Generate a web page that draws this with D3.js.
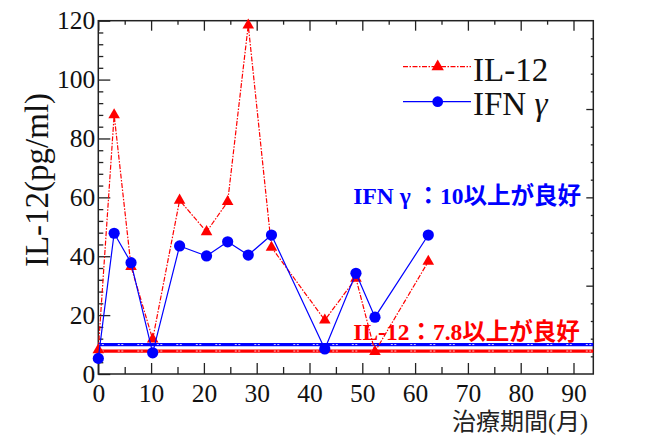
<!DOCTYPE html>
<html>
<head>
<meta charset="utf-8">
<script src="https://cdn.jsdelivr.net/npm/d3@7"></script>
<style>
    body { margin: 0; background: #fff; }
    svg { display: block; }
</style>
</head>
<body>
<svg width="658" height="435"></svg>
<script>
// months of treatment at each visit
let months = [0, 3, 6.2, 10.3, 15.4, 20.5, 24.5, 28.4, 32.8, 42.9, 48.8, 52.4, 62.5];
// IL-12 (pg/ml)
let il12 = [8.2, 88, 36.5, 11.8, 59, 48.3, 58.5, 118.5, 43, 18.3, 32.5, 7.6, 38.2];
// IFN gamma
let ifng = [5.3, 47.8, 37.8, 7.2, 43.5, 40.1, 44.9, 40.4, 47.2, 8.5, 34.2, 19.3, 47.2];

// reference levels
let il12Ref = 7.8, ifngRef = 10;

let xTicks = [0, 10, 20, 30, 40, 50, 60, 70, 80, 90];
let yTicks = [0, 20, 40, 60, 80, 100, 120];

var red = "#ff0000", blue = "#0000ff", ink = "#222";
var serif = "'Liberation Serif', 'Times New Roman', serif";
var cjk = "'Liberation Serif', 'Noto Sans CJK JP', sans-serif";

// plot box (note: "top" would clash with window.top)
var pLeft = 98.3, pTop = 20.7, pRight = 593.3, pBottom = 374;

var svg = d3.select("svg");

var x = d3.scaleLinear().domain([0, 93.75]).range([pLeft, pRight]);
var y = d3.scaleLinear().domain([0, 120]).range([pBottom, pTop]);

/* ----------- axes ----------- */

function styleAxis(g) {
    g.select(".domain").remove();
    g.selectAll(".tick line").attr("stroke", ink).attr("stroke-width", 1.3);
    g.selectAll(".tick text").attr("fill", "#111").attr("font-family", serif).attr("font-size", 25.5);
}

// bottom: labels every 10, minor every 5
svg.append("g").attr("transform", `translate(0,${pBottom})`)
    .call(d3.axisBottom(x).tickValues(d3.range(5, 91, 10)).tickSize(-7).tickFormat(""))
    .call(styleAxis);
svg.append("g").attr("transform", `translate(0,${pBottom})`)
    .call(d3.axisBottom(x).tickValues(xTicks).tickSize(-11).tickPadding(10).tickFormat(d3.format("d")))
    .call(styleAxis);

// top
svg.append("g").attr("transform", `translate(0,${pTop})`)
    .call(d3.axisTop(x).tickValues(d3.range(5, 91, 10)).tickSize(-4).tickFormat(""))
    .call(styleAxis);
svg.append("g").attr("transform", `translate(0,${pTop})`)
    .call(d3.axisTop(x).tickValues(xTicks).tickSize(-10).tickFormat(""))
    .call(styleAxis);

// left: labels every 20, minor every 4
svg.append("g").attr("transform", `translate(${pLeft},0)`)
    .call(d3.axisLeft(y).tickValues(d3.range(4, 120, 4).filter(v => v % 20 != 0)).tickSize(-5).tickFormat(""))
    .call(styleAxis);
svg.append("g").attr("transform", `translate(${pLeft},0)`)
    .call(d3.axisLeft(y).tickValues(yTicks).tickSize(-12).tickPadding(3).tickFormat(d3.format("d")))
    .call(styleAxis);

// right: ticks every 6, longer every 30
svg.append("g").attr("transform", `translate(${pRight},0)`)
    .call(d3.axisRight(y).tickValues(d3.range(6, 120, 6).filter(v => v % 30 != 0)).tickSize(-2.5).tickFormat(""))
    .call(styleAxis);
svg.append("g").attr("transform", `translate(${pRight},0)`)
    .call(d3.axisRight(y).tickValues([30, 60, 90]).tickSize(-7).tickFormat(""))
    .call(styleAxis);

svg.append("rect")
    .attr("x", pLeft).attr("y", pTop)
    .attr("width", pRight - pLeft).attr("height", pBottom - pTop)
    .attr("fill", "none").attr("stroke", ink).attr("stroke-width", 1.5);

svg.append("text")
    .attr("transform", "translate(48,180)rotate(-90)")
    .attr("text-anchor", "middle")
    .attr("font-family", serif).attr("font-size", 33).attr("fill", "#111")
    .text("IL-12(pg/ml)");

svg.append("text")
    .attr("x", 588).attr("y", 430)
    .attr("text-anchor", "end")
    .attr("font-family", cjk).attr("font-size", 24).attr("fill", "#222")
    .text("治療期間(月)");

/* ----------- reference levels ----------- */

[[ifngRef, blue], [il12Ref, red]].forEach(([v, c]) => {
    svg.append("line")
        .attr("x1", pLeft).attr("x2", pRight).attr("y1", y(v)).attr("y2", y(v))
        .attr("stroke", c).attr("stroke-width", 3.2);
    svg.append("line")
        .attr("x1", pLeft).attr("x2", pRight).attr("y1", y(v)).attr("y2", y(v))
        .attr("stroke", "#fff").attr("stroke-width", 0.8)
        .attr("stroke-dasharray", "2,1.5,2,14");
});

/* ----------- series ----------- */

var il12Data = months.map((m, i) => [m, il12[i]]);
var ifngData = months.map((m, i) => [m, ifng[i]]);

var line = d3.line().x(d => x(d[0])).y(d => y(d[1]));

svg.append("path")
    .datum(il12Data)
    .attr("fill", "none").attr("stroke", red).attr("stroke-width", 1.2)
    .attr("stroke-dasharray", "5,1.5,1.5,1.5")
    .attr("d", line);

svg.selectAll("path.tri")
    .data(il12Data)
    .enter()
    .append("path")
    .attr("class", "tri")
    .attr("fill", red)
    .attr("transform", d => `translate(${x(d[0])},${y(d[1])})`)
    .attr("d", d3.symbol(d3.symbolTriangle, 58));

svg.append("path")
    .datum(ifngData)
    .attr("fill", "none").attr("stroke", blue).attr("stroke-width", 1.2)
    .attr("d", line);

svg.selectAll("circle.dot")
    .data(ifngData)
    .enter()
    .append("circle")
    .attr("class", "dot")
    .attr("fill", blue)
    .attr("cx", d => x(d[0]))
    .attr("cy", d => y(d[1]))
    .attr("r", 5.6);

/* ----------- legend ----------- */

var legend = svg.append("g");

legend.append("line")
    .attr("x1", 403).attr("x2", 471).attr("y1", 66.7).attr("y2", 66.7)
    .attr("stroke", red).attr("stroke-width", 1.2).attr("stroke-dasharray", "5,1.5,1.5,1.5");
legend.append("path")
    .attr("fill", red)
    .attr("transform", "translate(437.7,66.7)")
    .attr("d", d3.symbol(d3.symbolTriangle, 66));
legend.append("text")
    .attr("x", 473).attr("y", 80.5)
    .attr("font-family", serif).attr("font-size", 33).attr("fill", "#111")
    .text("IL-12");

legend.append("line")
    .attr("x1", 403).attr("x2", 471).attr("y1", 101.7).attr("y2", 101.7)
    .attr("stroke", blue).attr("stroke-width", 1.2);
legend.append("circle")
    .attr("fill", blue).attr("cx", 437.7).attr("cy", 101.7).attr("r", 5.4);
var ifnLabel = legend.append("text")
    .attr("x", 473).attr("y", 115)
    .attr("font-family", serif).attr("font-size", 33).attr("fill", "#111");
ifnLabel.append("tspan").text("IFN ");
ifnLabel.append("tspan").attr("font-style", "italic").text("γ");

/* ----------- notes ----------- */

svg.append("text")
    .attr("x", 353.3).attr("y", 204)
    .attr("font-family", cjk).attr("font-weight", "bold").attr("font-size", 23.5)
    .attr("fill", blue)
    .text("IFN γ ：10以上が良好");

svg.append("text")
    .attr("x", 353.3).attr("y", 340)
    .attr("font-family", cjk).attr("font-weight", "bold").attr("font-size", 23.5)
    .attr("fill", red)
    .text("IL-12：7.8以上が良好");
</script>
</body>
</html>
